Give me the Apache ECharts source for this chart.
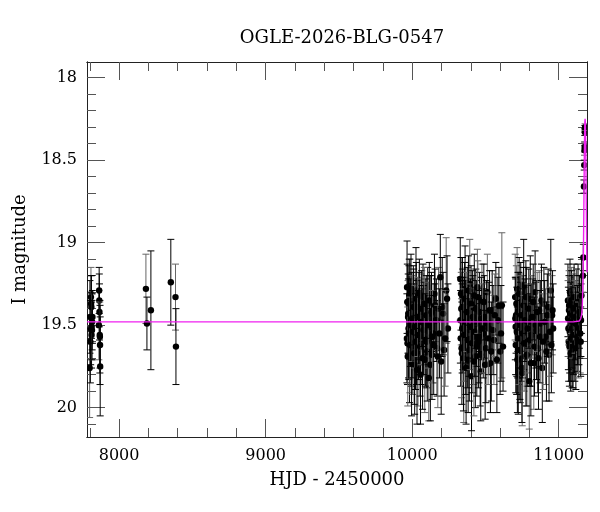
<!DOCTYPE html>
<html>
<head>
<meta charset="utf-8">
<script src="https://cdn.jsdelivr.net/npm/echarts@6/dist/echarts.min.js"></script>
<style>
  html, body { margin: 0; padding: 0; background: #fff; }
  #chart { width: 600px; height: 512px; }
</style>
</head>
<body>
<div id="chart"></div>
<script>
// 观测数据 (HJD - 2450000, I 星等, 误差)
const season1T = [7799, 7801, 7804, 7806, 7808, 7809, 7811, 7812, 7813, 7815, 7816, 7818,
  7862, 7864, 7865, 7866, 7868, 7869, 7870, 7871];
const season1Mag = [19.76, 19.45, 19.60, 19.52, 19.33, 19.37, 19.39, 19.56, 19.51, 19.53, 19.48, 19.45,
  19.50, 19.29, 19.35, 19.42, 19.56, 19.57, 19.62, 19.75];
const season1Err = [0.30, 0.22, 0.25, 0.22, 0.18, 0.17, 0.19, 0.20, 0.20, 0.18, 0.17, 0.16,
  0.21, 0.14, 0.16, 0.17, 0.20, 0.22, 0.24, 0.30];

const season2T = [8183, 8190, 8217, 8353, 8385, 8388];
const season2Mag = [19.28, 19.49, 19.41, 19.24, 19.33, 19.63];
const season2Err = [0.21, 0.16, 0.36, 0.26, 0.20, 0.23];

const season3T = [9965, 9968, 9972, 9975, 9978, 9982, 9986, 9990, 9994, 9998, 10003, 10008, 10012, 10017, 10021,
  10026, 10030, 10035, 10040, 10046, 10051, 10057, 10062, 10068, 10074, 10080, 10086, 10093, 10099, 10106,
  10113, 10120, 10128, 10135, 10143, 10152, 10161, 10170, 10180, 10192, 10205, 10218, 10232, 10244];
const season3Mag = [19.27, 19.61, 19.45, 19.52, 19.38, 19.70, 19.30, 19.48, 19.56, 19.41, 19.63, 19.35, 19.50, 19.74, 19.44,
  19.29, 19.58, 19.47, 19.66, 19.39, 19.53, 19.80, 19.42, 19.57, 19.33, 19.49, 19.71, 19.46, 19.60, 19.37,
  19.82, 19.51, 19.43, 19.68, 19.55, 19.31, 19.47, 19.64, 19.40, 19.21, 19.39, 19.65, 19.29, 19.52];
const season3Err = [0.28, 0.25, 0.22, 0.30, 0.24, 0.27, 0.20, 0.26, 0.31, 0.23, 0.29, 0.21, 0.25, 0.30, 0.22,
  0.26, 0.28, 0.24, 0.33, 0.21, 0.27, 0.30, 0.23, 0.29, 0.20, 0.25, 0.32, 0.24, 0.28, 0.22,
  0.26, 0.31, 0.23, 0.27, 0.30, 0.24, 0.22, 0.29, 0.25, 0.26, 0.30, 0.28, 0.32, 0.27];
const season3bT = [9964, 9967, 9970, 9973, 9977, 9980, 9984, 9988, 9992, 9996, 10000, 10005, 10010, 10014, 10019,
  10023, 10028, 10033, 10038, 10043, 10049, 10054, 10060, 10065, 10071, 10077, 10083, 10090, 10096, 10103,
  10110, 10117, 10124, 10132, 10139, 10147, 10156, 10165, 10175, 10186, 10198, 10211, 10225, 10238];
const season3bMag = [19.58, 19.36, 19.69, 19.43, 19.55, 19.32, 19.62, 19.50, 19.28, 19.73, 19.46, 19.54, 19.39, 19.67, 19.51,
  19.60, 19.34, 19.77, 19.45, 19.56, 19.31, 19.63, 19.48, 19.40, 19.70, 19.53, 19.37, 19.59, 19.44, 19.66,
  19.50, 19.35, 19.74, 19.42, 19.57, 19.62, 19.38, 19.47, 19.69, 19.55, 19.72, 19.43, 19.58, 19.34];
const season3bErr = [0.27, 0.23, 0.30, 0.24, 0.28, 0.22, 0.29, 0.25, 0.21, 0.32, 0.26, 0.28, 0.23, 0.31, 0.25,
  0.29, 0.22, 0.33, 0.24, 0.27, 0.21, 0.30, 0.26, 0.23, 0.31, 0.27, 0.22, 0.28, 0.24, 0.30,
  0.26, 0.23, 0.34, 0.24, 0.28, 0.30, 0.22, 0.25, 0.31, 0.27, 0.32, 0.25, 0.29, 0.26];

const season4T = [10328, 10331, 10335, 10339, 10343, 10347, 10352, 10356, 10361, 10366, 10371, 10376, 10382, 10387,
  10393, 10399, 10405, 10411, 10418, 10424, 10431, 10438, 10445, 10452, 10460, 10468, 10476, 10485,
  10494, 10503, 10513, 10523, 10534, 10546, 10558, 10571, 10585, 10600, 10612, 10620];
const season4Mag = [19.22, 19.58, 19.40, 19.67, 19.33, 19.50, 19.75, 19.44, 19.28, 19.62, 19.48, 19.36, 19.71, 19.53,
  19.25, 19.46, 19.81, 19.39, 19.57, 19.32, 19.69, 19.49, 19.27, 19.60, 19.42, 19.78, 19.35, 19.55,
  19.45, 19.64, 19.30, 19.52, 19.73, 19.41, 19.59, 19.34, 19.47, 19.66, 19.38, 19.63];
const season4Err = [0.25, 0.29, 0.22, 0.31, 0.24, 0.27, 0.34, 0.23, 0.26, 0.30, 0.25, 0.21, 0.32, 0.28,
  0.27, 0.24, 0.33, 0.22, 0.29, 0.25, 0.31, 0.26, 0.23, 0.28, 0.24, 0.30, 0.22, 0.27,
  0.25, 0.33, 0.23, 0.28, 0.30, 0.24, 0.27, 0.22, 0.26, 0.26, 0.44, 0.27];
const season4bT = [10329, 10333, 10337, 10341, 10345, 10350, 10354, 10358, 10363, 10368, 10373, 10379, 10384,
  10390, 10396, 10402, 10408, 10414, 10421, 10427, 10434, 10441, 10448, 10456, 10464, 10472, 10480,
  10489, 10498, 10508, 10518, 10528, 10540, 10552, 10564, 10578, 10592, 10606];
const season4bMag = [19.47, 19.31, 19.64, 19.52, 19.39, 19.70, 19.56, 19.34, 19.48, 19.76, 19.42, 19.59, 19.29,
  19.65, 19.51, 19.37, 19.61, 19.45, 19.72, 19.54, 19.40, 19.63, 19.33, 19.57, 19.68, 19.46, 19.52,
  19.36, 19.74, 19.49, 19.58, 19.41, 19.66, 19.53, 19.44, 19.71, 19.38, 19.55];
const season4bErr = [0.26, 0.22, 0.30, 0.27, 0.23, 0.32, 0.28, 0.22, 0.25, 0.34, 0.24, 0.29, 0.21,
  0.31, 0.26, 0.23, 0.30, 0.25, 0.33, 0.27, 0.24, 0.30, 0.22, 0.28, 0.31, 0.25, 0.27,
  0.23, 0.33, 0.26, 0.28, 0.24, 0.30, 0.27, 0.25, 0.32, 0.23, 0.29];

const season5T = [10703, 10706, 10709, 10713, 10716, 10720, 10724, 10728, 10732, 10737, 10741, 10746, 10751,
  10756, 10761, 10767, 10773, 10779, 10785, 10792, 10799, 10806, 10814, 10822, 10830, 10839, 10848,
  10857, 10867, 10877, 10888, 10899, 10910, 10922, 10934, 10946, 10955, 10962];
const season5Mag = [19.33, 19.51, 19.44, 19.62, 19.28, 19.55, 19.71, 19.40, 19.47, 19.66, 19.36, 19.58, 19.79,
  19.43, 19.26, 19.52, 19.69, 19.39, 19.60, 19.48, 19.84, 19.34, 19.56, 19.45, 19.73, 19.30, 19.53,
  19.64, 19.41, 19.49, 19.76, 19.37, 19.57, 19.44, 19.68, 19.29, 19.44, 19.52];
const season5Err = [0.26, 0.29, 0.23, 0.30, 0.25, 0.27, 0.33, 0.22, 0.28, 0.31, 0.24, 0.26, 0.32,
  0.23, 0.28, 0.25, 0.30, 0.24, 0.27, 0.22, 0.29, 0.26, 0.31, 0.23, 0.28, 0.25, 0.30,
  0.27, 0.24, 0.26, 0.33, 0.22, 0.29, 0.25, 0.28, 0.31, 0.24, 0.27];
const season5bT = [10704, 10707, 10711, 10714, 10718, 10722, 10726, 10730, 10735, 10739, 10744, 10749, 10754,
  10759, 10764, 10770, 10776, 10782, 10789, 10796, 10803, 10810, 10818, 10826, 10835, 10844, 10853,
  10862, 10872, 10882, 10893, 10904, 10916, 10928, 10940, 10950, 10958];
const season5bMag = [19.46, 19.62, 19.37, 19.54, 19.71, 19.42, 19.58, 19.31, 19.65, 19.50, 19.44, 19.76, 19.55,
  19.38, 19.61, 19.47, 19.33, 19.68, 19.52, 19.40, 19.59, 19.73, 19.45, 19.36, 19.63, 19.50, 19.42,
  19.70, 19.57, 19.35, 19.60, 19.48, 19.66, 19.39, 19.54, 19.62, 19.41];
const season5bErr = [0.25, 0.29, 0.23, 0.27, 0.32, 0.24, 0.28, 0.22, 0.30, 0.26, 0.24, 0.33, 0.27,
  0.23, 0.29, 0.25, 0.22, 0.31, 0.27, 0.24, 0.28, 0.32, 0.25, 0.23, 0.30, 0.26, 0.24,
  0.31, 0.28, 0.22, 0.29, 0.25, 0.30, 0.23, 0.27, 0.29, 0.24];

const season6T = [11063, 11064, 11066, 11068, 11070, 11071, 11073, 11075, 11077, 11078, 11080, 11082, 11084,
  11086, 11088, 11090, 11092, 11094, 11096, 11098, 11100, 11102, 11105, 11107, 11110, 11112, 11115, 11117,
  11120, 11123, 11126, 11129, 11132, 11135, 11138, 11141, 11144, 11147, 11150, 11152, 11155];
const season6Mag = [19.35, 19.46, 19.52, 19.60, 19.41, 19.38, 19.63, 19.54, 19.30, 19.43, 19.47, 19.67, 19.58,
  19.35, 19.38, 19.52, 19.66, 19.48, 19.44, 19.62, 19.55, 19.40, 19.33, 19.56, 19.61, 19.45, 19.49, 19.64,
  19.40, 19.37, 19.57, 19.50, 19.36, 19.59, 19.52, 19.42, 19.45, 19.55, 19.60, 19.47, 19.32];
const season6Err = [0.22, 0.23, 0.25, 0.24, 0.21, 0.21, 0.24, 0.25, 0.20, 0.22, 0.23, 0.23, 0.26,
  0.20, 0.21, 0.24, 0.22, 0.22, 0.24, 0.26, 0.25, 0.21, 0.20, 0.23, 0.23, 0.22, 0.22, 0.25,
  0.24, 0.21, 0.21, 0.24, 0.23, 0.23, 0.22, 0.22, 0.25, 0.24, 0.21, 0.22, 0.23];

// 增亮事件
const eventT = [11165, 11168, 11172, 11174, 11176, 11177, 11178, 11179, 11180];
const eventMag = [19.20, 19.09, 18.66, 18.53, 18.44, 18.42, 18.33, 18.31, 18.30];
const eventErr = [0.10, 0.08, 0.04, 0.03, 0.03, 0.03, 0.02, 0.02, 0.02];

// 模型曲线
const modelT = [7781, 11100, 11140, 11150, 11156, 11160, 11164, 11168, 11171, 11174, 11176, 11178, 11180,
  11182, 11184, 11186, 11189, 11192, 11193];
const modelMag = [19.48, 19.48, 19.475, 19.46, 19.44, 19.40, 19.30, 19.10, 18.85, 18.55, 18.38, 18.27, 18.25,
  18.27, 18.38, 18.55, 18.85, 19.10, 19.18];

// 坐标刻度
const xMajor = [8000, 9000, 10000, 11000];
const xMinor = [7800, 8200, 8400, 8600, 8800, 9200, 9400, 9600, 9800, 10200, 10400, 10600, 10800, 11200];
const yMajor = [18, 18.5, 19, 19.5, 20];
const yMinor = [18.1, 18.2, 18.3, 18.4, 18.6, 18.7, 18.8, 18.9, 19.1, 19.2, 19.3, 19.4, 19.6, 19.7, 19.8, 19.9, 20.1];

const xMin = 7781, xMax = 11193;
const yMin = 17.905, yMax = 20.178;

const hjd = [].concat(season1T, season2T, season3T, season3bT, season4T, season4bT,
  season5T, season5bT, season6T, eventT);
const mag = [].concat(season1Mag, season2Mag, season3Mag, season3bMag, season4Mag, season4bMag,
  season5Mag, season5bMag, season6Mag, eventMag);
const magErr = [].concat(season1Err, season2Err, season3Err, season3bErr, season4Err, season4bErr,
  season5Err, season5bErr, season6Err, eventErr);

const font = 'DejaVu Serif';

function xAxis(position, ticks, len, withLabel) {
  return {
    type: 'value', min: xMin, max: xMax, position: position,
    axisLine: { show: true, onZero: false, lineStyle: { color: '#222', width: 1 } },
    axisTick: { show: true, inside: true, length: len, customValues: ticks, lineStyle: { color: '#555' } },
    axisLabel: withLabel
      ? { show: true, customValues: ticks, margin: 11, color: '#000', fontFamily: font, fontSize: 16,
          formatter: v => String(v) }
      : { show: false },
    splitLine: { show: false }
  };
}

function yAxis(position, ticks, len, withLabel) {
  return {
    type: 'value', min: yMin, max: yMax, inverse: true, position: position,
    axisLine: { show: true, onZero: false, lineStyle: { color: '#222', width: 1 } },
    axisTick: { show: true, inside: true, length: len, customValues: ticks, lineStyle: { color: '#555' } },
    axisLabel: withLabel
      ? { show: true, customValues: ticks, margin: 10, color: '#000', fontFamily: font, fontSize: 16,
          formatter: v => String(v) }
      : { show: false },
    splitLine: { show: false }
  };
}

const xAxes = [
  xAxis('bottom', xMajor, 18, true),
  xAxis('bottom', xMinor, 9, false),
  xAxis('top', xMajor, 18, false),
  xAxis('top', xMinor, 9, false)
];
Object.assign(xAxes[0], {
  name: 'HJD - 2450000', nameLocation: 'middle', nameGap: 34,
  nameTextStyle: { color: '#000', fontFamily: font, fontSize: 18 }
});

const yAxes = [
  yAxis('left', yMajor, 18, true),
  yAxis('left', yMinor, 9, false),
  yAxis('right', yMajor, 18, false),
  yAxis('right', yMinor, 9, false)
];
Object.assign(yAxes[0], {
  name: 'I magnitude', nameLocation: 'middle', nameGap: 58, nameRotate: 90,
  nameTextStyle: { color: '#000', fontFamily: font, fontSize: 18 }
});

// 误差棒 + 点
function renderItem(params, api) {
  const t = api.value(0), m = api.value(1), e = api.value(2);
  const top = api.coord([t, m - e]);
  const bot = api.coord([t, m + e]);
  const c = api.coord([t, m]);
  const col = params.dataIndex % 4 === 0 ? '#666' : '#000';
  const st = { stroke: col, lineWidth: 1 };
  return {
    type: 'group',
    children: [
      { type: 'line', shape: { x1: top[0], y1: top[1], x2: bot[0], y2: bot[1] }, style: st },
      { type: 'line', shape: { x1: top[0] - 3.5, y1: top[1], x2: top[0] + 3.5, y2: top[1] }, style: st },
      { type: 'line', shape: { x1: bot[0] - 3.5, y1: bot[1], x2: bot[0] + 3.5, y2: bot[1] }, style: st },
      { type: 'circle', shape: { cx: c[0], cy: c[1], r: 3.2 }, style: { fill: '#000' } }
    ]
  };
}

let option = {
  animation: false,
  backgroundColor: '#fff',
  title: {
    text: 'OGLE-2026-BLG-0547',
    left: 337, top: 24, textAlign: 'center',
    textStyle: { color: '#000', fontFamily: font, fontSize: 18, fontWeight: 'normal' }
  },
  grid: { left: 87, right: 13, top: 62, bottom: 75 },
  xAxis: xAxes,
  yAxis: yAxes,
  series: [{
    name: 'data',
    type: 'custom',
    renderItem: renderItem,
    clip: true,
    data: hjd.map((t, i) => [t, mag[i], magErr[i]]),
    z: 2
  }, {
    name: 'model',
    type: 'line',
    showSymbol: false,
    clip: true,
    data: modelT.map((t, i) => [t, modelMag[i]]),
    lineStyle: { color: '#f020f0', width: 1.4 },
    z: 3
  }]
};

let myChart = echarts.init(document.getElementById('chart'));
myChart.setOption(option);
</script>
</body>
</html>
